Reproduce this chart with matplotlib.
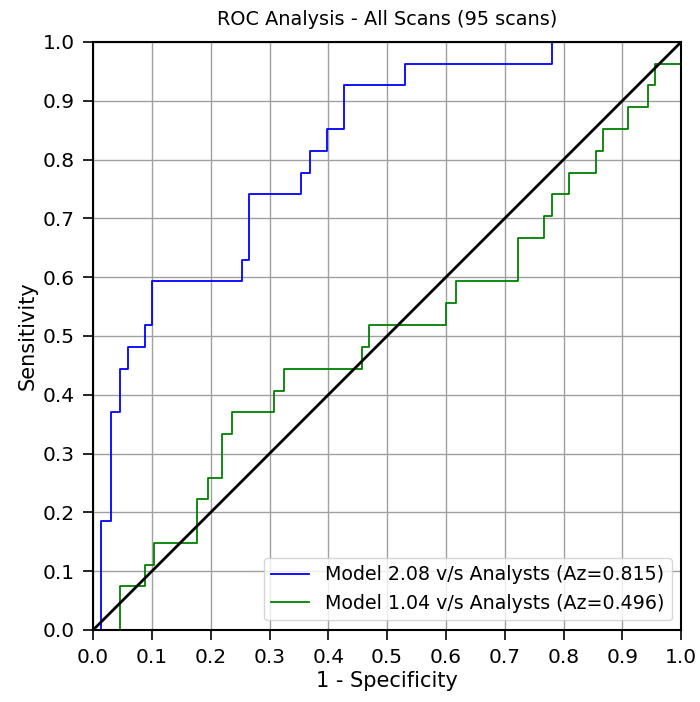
import matplotlib
matplotlib.use("Agg")
import matplotlib.pyplot as plt
import numpy as np

plt.rcParams.update({'font.family': 'DejaVu Sans', 'font.size': 13.8})

# ROC step curves (fpr, tpr)
fpr_new = [0.0, 0.014, 0.014, 0.030, 0.030, 0.045, 0.045, 0.060, 0.060, 0.089, 0.089,
           0.101, 0.101, 0.253, 0.253, 0.265, 0.265, 0.353, 0.353, 0.369, 0.369,
           0.397, 0.397, 0.426, 0.426, 0.531, 0.531, 0.780, 0.780, 1.0]
tpr_new = [0.0, 0.0, 0.185, 0.185, 0.370, 0.370, 0.444, 0.444, 0.481, 0.481, 0.519,
           0.519, 0.593, 0.593, 0.630, 0.630, 0.741, 0.741, 0.778, 0.778, 0.815,
           0.815, 0.852, 0.852, 0.926, 0.926, 0.963, 0.963, 1.0, 1.0]

fpr_old = [0.0, 0.045, 0.045, 0.088, 0.088, 0.103, 0.103, 0.176, 0.176, 0.195, 0.195,
           0.220, 0.220, 0.237, 0.237, 0.308, 0.308, 0.324, 0.324, 0.457, 0.457,
           0.470, 0.470, 0.601, 0.601, 0.618, 0.618, 0.722, 0.722, 0.766, 0.766,
           0.780, 0.780, 0.810, 0.810, 0.855, 0.855, 0.868, 0.868, 0.910, 0.910,
           0.943, 0.943, 0.956, 0.956, 1.0, 1.0]
tpr_old = [0.0, 0.0, 0.074, 0.074, 0.111, 0.111, 0.148, 0.148, 0.222, 0.222, 0.259,
           0.259, 0.333, 0.333, 0.370, 0.370, 0.407, 0.407, 0.444, 0.444, 0.481,
           0.481, 0.519, 0.519, 0.556, 0.556, 0.593, 0.593, 0.667, 0.667, 0.704,
           0.704, 0.741, 0.741, 0.778, 0.778, 0.815, 0.815, 0.852, 0.852, 0.889,
           0.889, 0.926, 0.926, 0.963, 0.963, 1.0]

label_new = "Model 2.08 v/s Analysts (Az=0.815)"
label_old = "Model 1.04 v/s Analysts (Az=0.496)"
ticks = np.round(np.arange(0, 1.01, 0.1), 1)

fig = plt.figure(figsize=(7, 7.02), dpi=100)
ax = fig.add_axes([0.133, 0.1026, 0.840, 0.8376])

ax.plot(fpr_new, tpr_new, color="blue", lw=1.3, label=label_new)
ax.plot(fpr_old, tpr_old, color="green", lw=1.3, label=label_old)
ax.plot([0, 1], [0, 1], color="black", lw=2)

ax.set_xlim(0, 1)
ax.set_ylim(0, 1)
ax.set_xticks(ticks)
ax.set_yticks(ticks)
ax.grid(True, color="#a0a0a0", lw=1.0)
for s in ax.spines.values():
    s.set_linewidth(1.5)
ax.tick_params(width=1.2, length=7, pad=6, labelsize=14.5)

ax.set_xlabel("1 - Specificity", fontsize=15, labelpad=3)
ax.set_ylabel("Sensitivity", fontsize=15, labelpad=4)
ax.set_title("ROC Analysis - All Scans (95 scans)", fontsize=13.9, pad=12)
ax.legend(loc="lower right", fontsize=13.7)

fig.savefig("out.png")
